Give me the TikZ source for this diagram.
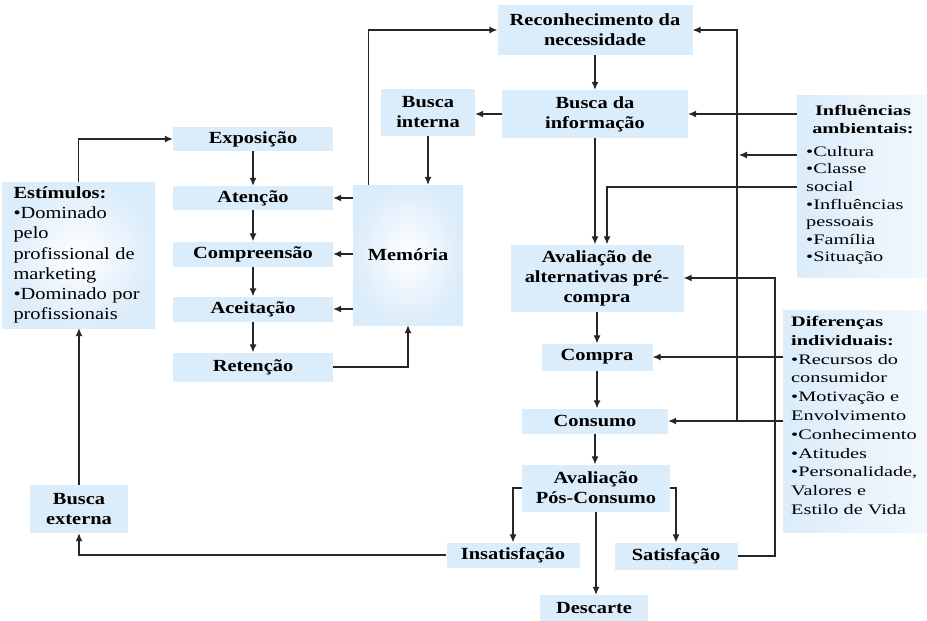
\documentclass[tikz,border=0pt]{standalone}
\usepackage{fontspec}
\setmainfont{Liberation Serif}[FakeStretch=1.2]
\newfontfamily\widefont{Liberation Serif}[FakeStretch=1.4]
\usetikzlibrary{arrows.meta,calc}
\definecolor{boxblue}{RGB}{219,236,250}
\begin{document}
\begin{tikzpicture}[x=1pt,y=-1pt,
  box/.style={fill=boxblue, inner sep=0pt, align=center, font=\fontsize{17}{20}\selectfont\bfseries, text=black},
  arr/.style={-{Latex[length=8pt,width=7pt]}, line width=1.1pt, black!85},
  ln/.style={line width=1.1pt, black!85}]
\useasboundingbox (0,0) rectangle (927,621);
% main chain
\node[box, minimum width=195pt, minimum height=50pt] (rec) at (595,30) {Reconhecimento da\\necessidade};
\node[box, minimum width=186pt, minimum height=48pt] (bdi) at (595,114) {Busca da\\informação};
\node[box, minimum width=94pt, minimum height=47pt] (bint) at (428,112) {Busca\\interna};
\node[box, minimum width=110pt, minimum height=140pt, inner color=white, outer color=boxblue] (mem) at (408,255) {Memória};
\node[box, minimum width=160pt, minimum height=24pt] (expo) at (253,139) {Exposição};
\node[box, minimum width=160pt, minimum height=24pt] (aten) at (253,198) {Atenção};
\node[box, minimum width=160pt, minimum height=25pt] (comp) at (253,254) {Compreensão};
\node[box, minimum width=160pt, minimum height=25pt] (acei) at (253,309) {Aceitação};
\node[box, minimum width=160pt, minimum height=29pt] (ret) at (253,367) {Retenção};
\node[box, minimum width=153pt, minimum height=146pt, text width=130pt, align=left, font=\fontsize{17}{20.3}\selectfont, inner color=white, outer color=boxblue] (est) at (78.5,255) {\textbf{Estímulos:}\\•Dominado\\pelo\\profissional de\\marketing\\•Dominado por\\profissionais};
\node[box, minimum width=98pt, minimum height=48pt] (bext) at (79,509) {Busca\\externa};
\node[box, minimum width=173pt, minimum height=67pt] (aval) at (597,278) {Avaliação de\\alternativas pré-\\compra};
\node[box, minimum width=111pt, minimum height=27pt] (compra) at (597,357) {Compra};
\node[box, minimum width=146pt, minimum height=25pt] (cons) at (595,421) {Consumo};
\node[box, minimum width=148pt, minimum height=47pt] (pos) at (596,488) {Avaliação\\Pós-Consumo};
\node[box, minimum width=133pt, minimum height=25pt] (insat) at (513,555) {Insatisfação};
\node[box, minimum width=123pt, minimum height=27pt] (sat) at (676,556) {Satisfação};
\node[box, minimum width=108pt, minimum height=26pt] (desc) at (594,608) {Descarte};
% influences
\node[box, minimum width=130pt, minimum height=182pt, left color=boxblue, right color=boxblue!35] (infl) at (862,186) {};
\node[align=center, inner sep=0pt, font=\widefont\fontsize{14.5}{18}\selectfont\bfseries] (inflt) at (863,119) {Influências\\ambientais:};
\node[anchor=north west, align=left, inner sep=0pt, font=\widefont\fontsize{14.5}{17.6}\selectfont] (infll) at (806,146) {•Cultura\\•Classe\\social\\•Influências\\pessoais\\•Família\\•Situação};
\node[box, minimum width=144pt, minimum height=222pt, left color=boxblue, right color=boxblue!35] (dif) at (855,421) {};
\node[anchor=north west, align=left, inner sep=0pt, font=\widefont\fontsize{14.5}{18.8}\selectfont] (difl) at (791,316) {\textbf{Diferenças}\\\textbf{individuais:}\\•Recursos do\\consumidor\\•Motivação e\\Envolvimento\\•Conhecimento\\•Atitudes\\•Personalidade,\\Valores e\\Estilo de Vida};
% helper coordinates
\coordinate (vx) at (737,0);
\coordinate (vx2) at (775,0);
\coordinate (cA) at (739,155);
\coordinate (jA) at (607,187);
% connectors
\draw[arr] (rec) -- (bdi);
\draw[arr] (bdi.west) -- (bdi.west -| bint.east);
\draw[arr] (bint) -- (bint |- mem.north);
\draw[arr] (mem.west |- aten) -- (aten.east);
\draw[arr] (mem.west |- comp) -- (comp.east);
\draw[arr] (mem.west |- acei) -- (acei.east);
\draw[arr] (expo) -- (aten);
\draw[arr] (aten) -- (comp);
\draw[arr] (comp) -- (acei);
\draw[arr] (acei) -- (ret);
\draw[arr] (ret.east) -| (mem.south);
\draw[arr] ($(mem.north west)+(16,0)$) |- (rec.west);
\draw[arr] (est.north) |- (expo.west);
\draw[arr] (bext.north) -- (bext.north |- est.south);
\draw[arr] (insat.west) -| (bext.south);
\draw[arr] (bdi.south) -- (bdi.south |- aval.north);
\draw[arr] (infl.west |- jA) -| ($(aval.north)+(10,0)$);
\draw[arr] (infl.west |- bdi) -- (bdi.east);
\draw[arr] (infl.west |- cA) -- (cA);
\draw[arr] (vx |- cons) |- (rec.east);
\draw[arr] (dif.west |- compra) -- (compra.east);
\draw[arr] (dif.west |- cons) -- (cons.east);
\draw[arr] (sat.east) -- (vx2 |- sat) |- (aval.east);
\draw[arr] (aval.south) -- (aval.south |- compra.north);
\draw[arr] (compra.south) -- (compra.south |- cons.north);
\draw[arr] (cons.south) -- (cons.south |- pos.north);
\draw[arr] (pos.west) -| (insat.north);
\draw[arr] (pos.east) -| (sat.north);
\draw[arr] (pos.south) -- (pos.south |- desc.north);
\end{tikzpicture}
\end{document}
